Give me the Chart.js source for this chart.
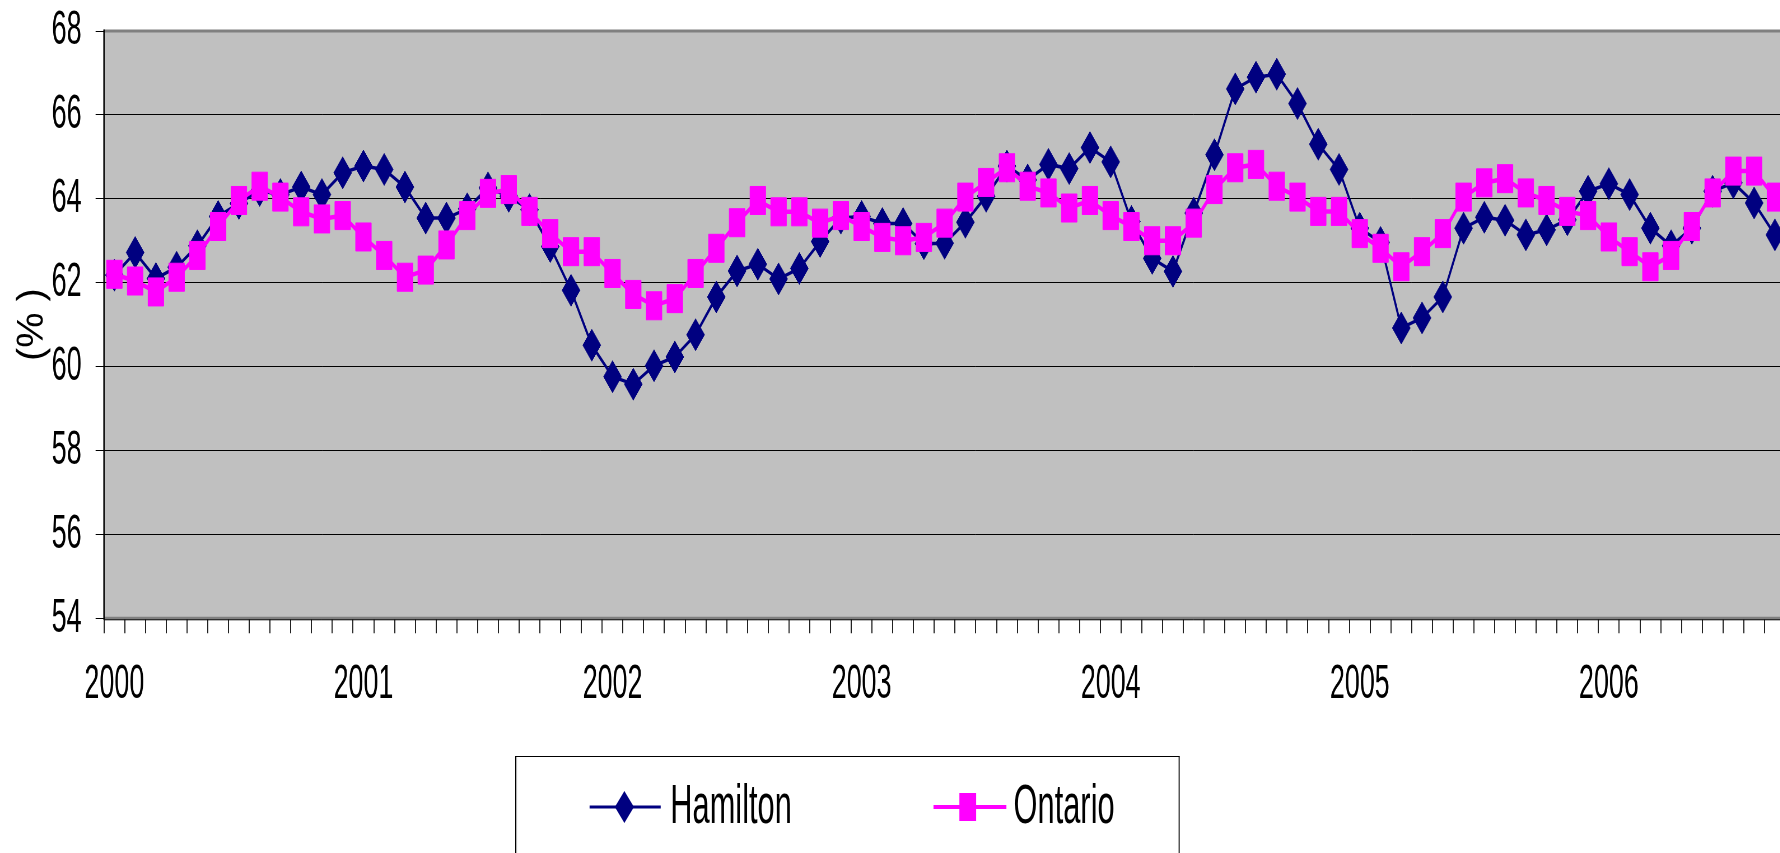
<!DOCTYPE html>
<html>
<head>
<meta charset="utf-8">
<script src="https://cdn.jsdelivr.net/npm/chart.js@4/dist/chart.umd.min.js"></script>
<style>
  html, body { margin:0; padding:0; overflow:hidden; background:#fff; width:1780px; height:853px; }
  #wrap { position:absolute; left:0; top:0; width:3320px; height:853px; transform:scaleX(0.56); transform-origin:0 0; }
  #c { display:block; width:3320px; height:853px; }
  #legendBox { position:absolute; left:920px; top:756px; width:1187px; height:200px; border:2px solid #000; border-top-width:1.5px; box-sizing:border-box; background:#fff; }
  .lgText { position:absolute; font-family:"Liberation Sans", Arial, sans-serif; font-size:55px; line-height:55px; color:#000; white-space:nowrap; }
  #lgSvg { position:absolute; left:0; top:0; }
</style>
</head>
<body>
<div id="wrap">
  <canvas id="c" width="3320" height="853"></canvas>
  <div id="legendBox"></div>
  <svg id="lgSvg" width="3320" height="853" xmlns="http://www.w3.org/2000/svg">
    <line x1="1053" y1="807" x2="1180" y2="807" stroke="#000080" stroke-width="3"/>
    <polygon points="1115,791 1132,807 1115,823 1098,807" fill="#000080"/>
    <line x1="1667" y1="807" x2="1797" y2="807" stroke="#FF00FF" stroke-width="4"/>
    <rect x="1713" y="793" width="30" height="28" fill="#FF00FF"/>
  </svg>
  <div class="lgText" style="left:1197px; top:777px;">Hamilton</div>
  <div class="lgText" style="left:1810px; top:777px;">Ontario</div>
</div>
<script>
// ---- data ----
const years = ['2000','2001','2002','2003','2004','2005','2006'];
const monthNames = ['Jan','Feb','Mar','Apr','May','Jun','Jul','Aug','Sep','Oct','Nov','Dec'];
const yTicks = [54,56,58,60,62,64,66,68];
const seriesNames = ['Hamilton','Ontario'];

const hamilton = [
  62.18,62.72,62.10,62.37,62.88,63.58,63.89,64.20,64.10,64.28,64.10,64.62,
  64.78,64.70,64.28,63.54,63.54,63.76,64.26,64.06,63.74,62.86,61.82,60.51,
  59.76,59.58,60.02,60.23,60.76,61.66,62.28,62.44,62.09,62.34,62.98,63.54,
  63.58,63.41,63.41,62.93,62.94,63.44,64.06,64.78,64.45,64.82,64.72,65.22,
  64.88,63.46,62.58,62.27,63.66,65.05,66.62,66.90,66.97,66.27,65.30,64.70,
  63.30,62.96,60.92,61.16,61.66,63.30,63.56,63.49,63.14,63.26,63.50,64.18,
  64.36,64.10,63.30,62.88,63.30,64.18,64.38,63.90,63.14
];
const ontario = [
  62.20,62.04,61.78,62.13,62.65,63.34,63.96,64.30,64.04,63.69,63.52,63.60,
  63.09,62.65,62.13,62.30,62.90,63.60,64.13,64.22,63.70,63.17,62.74,62.74,
  62.22,61.72,61.45,61.62,62.22,62.82,63.43,63.96,63.69,63.69,63.42,63.60,
  63.34,63.08,63.00,63.08,63.42,64.04,64.39,64.74,64.30,64.14,63.78,63.96,
  63.60,63.34,63.00,63.00,63.42,64.22,64.74,64.82,64.30,64.04,63.70,63.70,
  63.17,62.82,62.38,62.74,63.17,64.04,64.38,64.48,64.14,63.96,63.70,63.60,
  63.09,62.74,62.38,62.65,63.34,64.14,64.66,64.66,64.04
];

// categories built from the arrays above
const categories = [];
years.forEach(y => monthNames.forEach(m => categories.push(m + ' ' + y)));

const FONT = '"Liberation Sans", Arial, sans-serif';

const plotDeco = {
  id: 'plotDeco',
  beforeDraw(chart) {
    const a = chart.chartArea, ctx = chart.ctx;
    ctx.save();
    ctx.fillStyle = '#C0C0C0';
    ctx.fillRect(a.left, a.top, a.right - a.left, a.bottom - a.top);
    ctx.restore();
  },
  beforeDatasetsDraw(chart) {
    const a = chart.chartArea, ctx = chart.ctx;
    ctx.save();
    ctx.strokeStyle = '#808080';
    ctx.lineWidth = 3;
    ctx.beginPath();
    ctx.moveTo(a.left, a.top); ctx.lineTo(a.right, a.top);
    ctx.moveTo(a.left, a.bottom); ctx.lineTo(a.right, a.bottom);
    ctx.stroke();
    ctx.strokeStyle = '#000';
    ctx.lineWidth = 1;
    ctx.beginPath();
    ctx.moveTo(a.left, a.bottom + 1.5); ctx.lineTo(a.right, a.bottom + 1.5);
    ctx.stroke();
    ctx.lineWidth = 2.5;
    ctx.beginPath();
    ctx.moveTo(a.left, a.top - 1.5); ctx.lineTo(a.left, a.bottom + 1.5);
    ctx.stroke();
    ctx.restore();
  },
  afterDraw(chart) {
    const a = chart.chartArea, ctx = chart.ctx;
    ctx.save();
    ctx.translate(58, (a.top + a.bottom) / 2);
    ctx.rotate(-Math.PI / 2);
    ctx.scale(0.6, 1);
    ctx.font = '66px ' + FONT;
    ctx.fillStyle = '#000';
    ctx.textAlign = 'center';
    ctx.textBaseline = 'middle';
    ctx.fillText('(% )', 0, 0);
    ctx.restore();
  }
};

new Chart(document.getElementById('c'), {
  type: 'line',
  data: {
    labels: categories,
    datasets: [
      {
        label: seriesNames[0],
        data: hamilton,
        borderColor: '#000080',
        backgroundColor: '#000080',
        borderWidth: 3.5,
        pointStyle: 'rectRot',
        pointRadius: 16,
        pointBorderWidth: 1,
        pointBackgroundColor: '#000080',
        pointBorderColor: '#000080',
        tension: 0,
        order: 1
      },
      {
        label: seriesNames[1],
        data: ontario,
        borderColor: '#FF00FF',
        backgroundColor: '#FF00FF',
        borderWidth: 4.5,
        pointStyle: 'rect',
        pointRadius: 19.8,
        pointBorderWidth: 1,
        pointBackgroundColor: '#FF00FF',
        pointBorderColor: '#FF00FF',
        tension: 0,
        order: 0
      }
    ]
  },
  options: {
    responsive: false,
    animation: false,
    devicePixelRatio: 1,
    layout: { padding: { top: 31, right: 13, bottom: 0, left: 0 } },
    plugins: { legend: { display: false }, tooltip: { enabled: false } },
    scales: {
      x: {
        type: 'category',
        offset: true,
        grid: { display: true, offset: true, drawOnChartArea: false, drawTicks: true, tickLength: 15, color: '#222', lineWidth: 2 },
        border: { display: false },
        ticks: {
          autoSkip: false, maxRotation: 0, minRotation: 0, padding: 23,
          color: '#000', font: { family: FONT, size: 48 },
          callback: function(val, idx) { return idx % 12 === 0 ? years[idx / 12] : ''; }
        },
        afterFit(scale) { scale.height = 234.7; scale.paddingLeft = 0; scale.paddingRight = 0; }
      },
      y: {
        min: 54, max: 68,
        afterBuildTicks(scale) { scale.ticks = yTicks.map(v => ({ value: v })); },
        grid: { color: '#000', lineWidth: 1, drawTicks: true, tickLength: 15 },
        border: { display: false },
        ticks: { padding: 25, color: '#000', font: { family: FONT, size: 48 } },
        afterFit(scale) { scale.width = 185.7; scale.paddingTop = 0; scale.paddingBottom = 0; }
      }
    }
  },
  plugins: [plotDeco]
});
</script>
</body>
</html>
